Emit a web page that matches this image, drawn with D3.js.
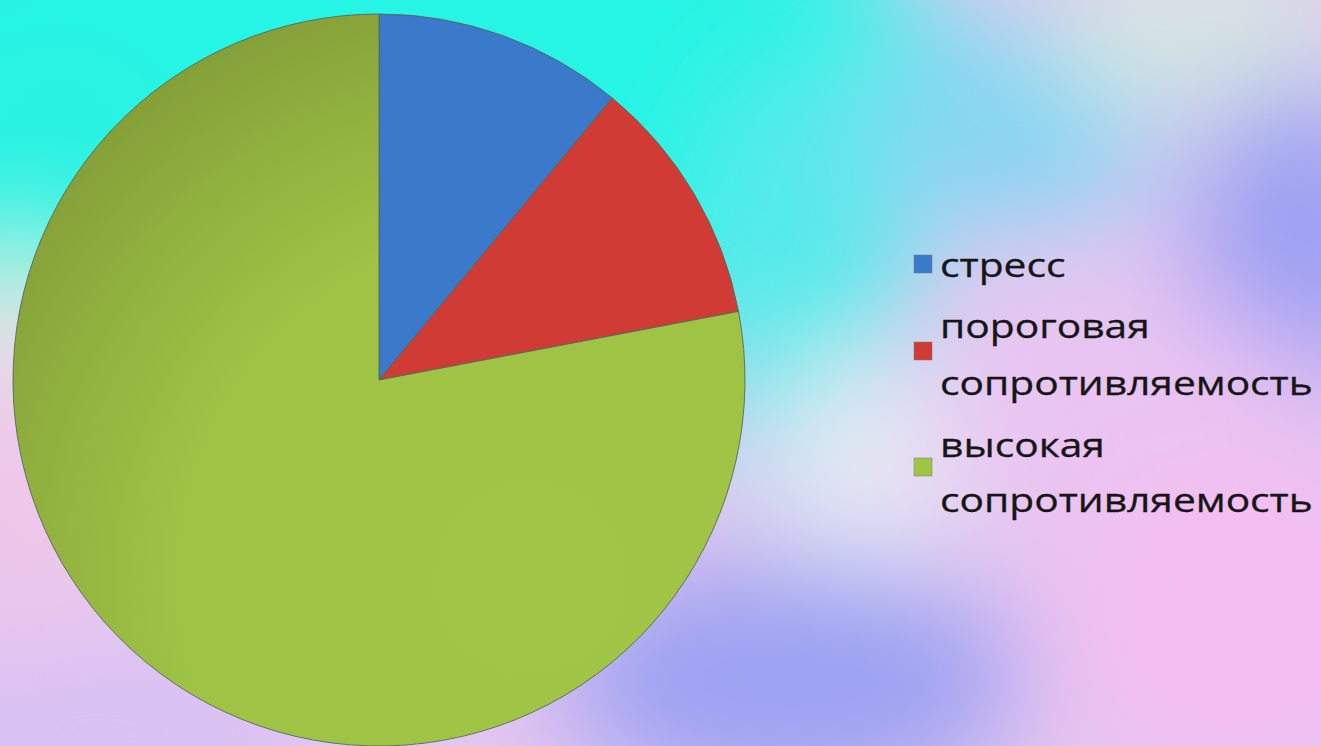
<!DOCTYPE html>
<html><head><meta charset="utf-8">
<script src="https://cdn.jsdelivr.net/npm/d3@7"></script>
<style>html,body{margin:0;padding:0;overflow:hidden;background:#e8c8f0}</style>
</head><body>
<svg id="chart" width="1321" height="746"></svg>
<script>
const categories = ["стресс", "пороговая сопротивляемость", "высокая сопротивляемость"];
const legendLines = [["стресс"], ["пороговая", "сопротивляемость"], ["высокая", "сопротивляемость"]];
const values = [11, 11, 78];
const colors = ["#3b79ca", "#d03b36", "#9fc545"];

const svg = d3.select("#chart");
const W = 1321, H = 746;
const defs = svg.append("defs");

// background: layered blurred colour blobs
const blur = defs.append("filter").attr("id","bgblur").attr("x","-50%").attr("y","-50%").attr("width","200%").attr("height","200%");
blur.append("feGaussianBlur").attr("stdDeviation", 55);
svg.append("rect").attr("width",W).attr("height",H).attr("fill","#e4c6f0");
const blobs = [
  {cx:350, cy:90, rx:620, ry:260, c:"#26f4e4"},
  {cx:60, cy:180, rx:120, ry:140, c:"#2cf2e2"},
  {cx:800, cy:280, rx:110, ry:220, c:"#56eaea"},
  {cx:1010, cy:120, rx:150, ry:110, c:"#86d6f2"},
  {cx:1200, cy:30, rx:160, ry:80, c:"#d6e6e2"},
  {cx:1300, cy:250, rx:110, ry:170, c:"#9ca0f2"},
  {cx:1150, cy:430, rx:190, ry:120, c:"#eac4f2"},
  {cx:860, cy:470, rx:90, ry:120, c:"#e6e8f4"},
  {cx:790, cy:680, rx:230, ry:120, c:"#9ca2f2"},
  {cx:1240, cy:620, rx:170, ry:160, c:"#f4bef0"},
  {cx:20, cy:320, rx:45, ry:70, c:"#eef4d8"},
  {cx:30, cy:500, rx:70, ry:120, c:"#f2c8e8"},
  {cx:110, cy:730, rx:220, ry:60, c:"#d6c0f6"}
];
svg.append("g").attr("filter","url(#bgblur)")
  .selectAll("ellipse").data(blobs).join("ellipse")
  .attr("cx",d=>d.cx).attr("cy",d=>d.cy).attr("rx",d=>d.rx).attr("ry",d=>d.ry)
  .attr("fill",d=>d.c);

// pie
const cx = 379, cy = 380, r = 366;
const pie = d3.pie().sort(null).value(d=>d);
const arc = d3.arc().innerRadius(0).outerRadius(r);

// green slice shading (darker toward upper-left); coordinates are local to the pie group
const gg = defs.append("radialGradient").attr("id","greenShade")
  .attr("gradientUnits","userSpaceOnUse").attr("cx",150).attr("cy",200).attr("r",620);
gg.append("stop").attr("offset","0").attr("stop-color","#a1c647");
gg.append("stop").attr("offset","0.55").attr("stop-color","#9fc445");
gg.append("stop").attr("offset","0.8").attr("stop-color","#91b13f");
gg.append("stop").attr("offset","1").attr("stop-color","#849f39");

const fills = [colors[0], colors[1], "url(#greenShade)"];
const g = svg.append("g").attr("transform",`translate(${cx},${cy})`);
g.selectAll("path.slice").data(pie(values)).join("path")
  .attr("class","slice")
  .attr("d",arc)
  .attr("fill",(d,i)=>fills[i])
  .attr("stroke","#56685a").attr("stroke-width",0.9);

// legend
const legend = svg.append("g").attr("transform","translate(914,0)");
const baselines = [[277],[338,395],[457,512]];
const markerY = [255,342,458];
const items = legend.selectAll("g.item").data(categories).join("g").attr("class","item");
items.append("rect").attr("x",0).attr("y",(d,i)=>markerY[i]).attr("width",18).attr("height",18)
  .attr("fill",(d,i)=>colors[i]).attr("stroke","#777").attr("stroke-width",0.5);
const texts = items.selectAll("text").data((d,i)=>legendLines[i].map((t,j)=>({t, y:baselines[i][j]}))).join("text")
  .attr("x",0).attr("y",d=>d.y)
  .attr("font-family","'Open Sans', 'Noto Sans', sans-serif").attr("font-size",32)
  .attr("fill","#161616").attr("stroke","#161616").attr("stroke-width",0.3)
  .text(d=>d.t);
let maxW = 0; texts.each(function(){maxW=Math.max(maxW,this.getComputedTextLength());});
const sx = 373/maxW;
texts.attr("transform",`translate(26,0) scale(${sx},1)`);
</script>
</body></html>
